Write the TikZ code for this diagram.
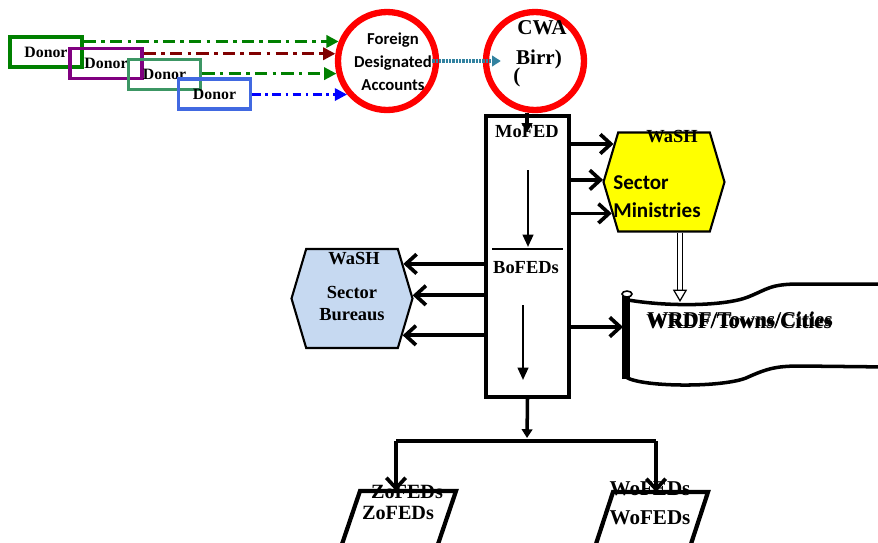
\documentclass[tikz,border=0pt]{standalone}
\usepackage{fontspec}
\setmainfont{Liberation Serif}
\newfontfamily\calibrifont{Carlito}
\usepackage{tikz}
\usetikzlibrary{positioning,arrows.meta,shapes.geometric,shapes.symbols}
\usepackage{xcolor}
\definecolor{donorgreen}{HTML}{008000}
\definecolor{donorpurple}{HTML}{800080}
\definecolor{donorsea}{HTML}{3C9664}
\definecolor{donorblue}{HTML}{4169E1}
\definecolor{flowred}{HTML}{800000}
\definecolor{flowblue}{HTML}{0000FF}
\definecolor{flowteal}{HTML}{3282A0}
\definecolor{ringred}{HTML}{FF0000}
\definecolor{washyellow}{HTML}{FFFF00}
\definecolor{bureaublue}{HTML}{C6D9F1}

\begin{document}
\begin{tikzpicture}[
    x=0.02cm, y=-0.02cm,
    donornode/.style={draw=#1, line width=2pt, minimum width=1.44cm, minimum height=0.6cm, inner sep=0pt, font=\fontsize{9}{10}\selectfont\bfseries},
    ringnode/.style={circle, draw=ringred, line width=3.6pt, minimum size=1.96cm, inner sep=0pt},
    hexnode/.style={signal, signal to=east and west, signal pointer angle=147, draw=black, line width=1.2pt, minimum width=2.42cm, minimum height=1.98cm, inner sep=0pt},
    boxnode/.style={draw=black, line width=1.9pt, inner sep=0pt},
    lbl/.style={font=\fontsize{10.5}{12}\selectfont\bfseries, inner sep=0pt},
    sanslbl/.style={font=\calibrifont\fontsize{12}{14}\selectfont\bfseries, inner sep=0pt},
    donoredge/.style={-{Triangle[length=7pt,width=7pt]}, dash pattern=on 7pt off 3pt on 2pt off 3pt},
    arrowedge/.style={line width=2.1pt, -{Straight Barb[length=6pt,width=11pt]}},
    inneredge/.style={line width=1.3pt, -{Triangle[length=7pt,width=6pt]}},
    stemedge/.style={line width=2pt, -{Triangle[length=5pt,width=6pt]}},
    dbledge/.style={double=white, double distance=1.8pt, line width=0.7pt, -{Triangle[open,length=7pt,width=8pt,line width=0.7pt]}}
]
    \useasboundingbox (0,0) rectangle (878,542);

    % Donatori
    \node[donornode=donorgreen] (d1) at (46,52) {Donor};
    \node[donornode=donorpurple] (d2) at (106,63.5) {Donor};
    \node[donornode=donorsea] (d3) at (164.5,74.5) {Donor};
    \node[donornode=donorblue] (d4) at (214.5,94) {Donor};

    % Conti
    \node[ringnode] (fda) at (387,61) {};
    \node[font=\calibrifont\fontsize{9.5}{13}\selectfont\bfseries, align=center, inner sep=0pt] (fdalbl) at (393,62) {Foreign\\Designated\\Accounts};
    \node[ringnode] (cwa) at (535,61) {};
    \node[lbl, font=\fontsize{12}{14}\selectfont\bfseries] (cwalbl) at (542,28) {CWA};
    \node[lbl, font=\fontsize{12}{14}\selectfont\bfseries] (birrlbl) at (539,59) {Birr)};
    \node[lbl, font=\fontsize{12}{14}\selectfont\bfseries] (parlbl) at (517,77) {(};

    \draw[donoredge, donorgreen, line width=2.2pt] (d1.east |- fda.158) -- (fda.158);
    \draw[donoredge, flowred, line width=1.6pt] (d2.east |- fda.172) -- (fda.172);
    \draw[donoredge, donorgreen, line width=1.5pt] (d3.east |- fda.194) -- (fda.194);
    \draw[donoredge, flowblue, line width=1.5pt, dash pattern=on 5pt off 2.5pt on 1.5pt off 2.5pt] (d4.east |- fda.220) -- (fda.220);
    \draw[flowteal, line width=2.4pt, dash pattern=on 1.4pt off 0.5pt, -{Triangle[length=5pt,width=6pt]}] ([xshift=-0.14cm]fda.east) -- ([xshift=0.36cm]cwa.west);

    % MoFED / BoFEDs
    \node[boxnode, minimum width=1.66cm, minimum height=5.62cm] (mofed) at (527.5,256.5) {};
    \node[lbl] (mofedlbl) at (527,132) {MoFED};
    \node[lbl] (bofedlbl) at (526,268) {BoFEDs};
    \coordinate (divl) at (492,249);
    \coordinate (divr) at (563,249);
    \draw[line width=1.2pt] (divl) -- (divr);
    \coordinate (in1a) at (528,170);
    \coordinate (in1b) at (528,247);
    \coordinate (in2a) at (523,305);
    \coordinate (in2b) at (523,380);
    \draw[inneredge] (in1a) -- (in1b);
    \draw[inneredge] (in2a) -- (in2b);
    \draw[stemedge] (mofedlbl.center |- cwa.south) -- (mofedlbl.center);

    % Settori
    \node[hexnode, fill=washyellow] (minist) at (664,182) {};
    \node[lbl] (ministwash) at (672,137) {WaSH};
    \node[sanslbl, anchor=west] (ministsec) at (613,183) {Sector};
    \node[sanslbl, anchor=west] (ministmin) at (613,210) {Ministries};

    \node[hexnode, fill=bureaublue] (bureaus) at (352,298.5) {};
    \node[lbl] (bureauwash) at (354,259) {WaSH};
    \node[lbl] (bureausec) at (352,292) {Sector};
    \node[lbl] (bureaubur) at (352,315) {Bureaus};

    \draw[arrowedge] (mofed.east |- minist.143) -- (minist.143);
    \draw[arrowedge] (mofed.east |- minist.178) -- (minist.178);
    \draw[arrowedge] (mofed.east |- minist.211) -- (minist.211);
    \draw[arrowedge] (mofed.west |- bureaus.34) -- (bureaus.34);
    \draw[arrowedge] (mofed.west |- bureaus.3) -- (bureaus.3);
    \draw[arrowedge] (mofed.west |- bureaus.324) -- (bureaus.324);

    % Pergamena WRDF
    \draw[line width=2pt] (628,300) .. controls (670,307) and (725,306) .. (748,297) .. controls (768,289) and (770,284) .. (800,284) -- (890,284);
    \draw[line width=2pt] (626,377) .. controls (640,387) and (720,388) .. (746,378) .. controls (766,369) and (775,366) .. (800,366) -- (890,367);
    \draw[line width=4.5pt] (626,296) -- (626,379);
    \draw[line width=0.9pt, fill=white] (627,294) ellipse [x radius=0.1cm, y radius=0.06cm];
    \node[lbl, font=\fontsize{12}{14}\selectfont\bfseries] (wrdf) at (739,321) {WRDF/Towns/Cities};
    \node[lbl, font=\fontsize{12}{14}\selectfont\bfseries] (wrdfb) at (740,319) {WRDF/Towns/Cities};
    \coordinate (scrollin) at (623,327);
    \coordinate (scrolltop) at (680,302);
    \draw[arrowedge] (mofed.east |- scrollin) -- (scrollin);
    \draw[dbledge] (minist.south -| scrolltop) -- (scrolltop);

    % Livelli inferiori
    \coordinate (split) at (527,438);
    \coordinate (zotop) at (396,491);
    \coordinate (wotop) at (656,492);
    \draw[stemedge] (mofed.south) -- (split);
    \draw[line width=2pt] ([yshift=-0.06cm]zotop |- split) -- ([yshift=-0.06cm]wotop |- split);
    \draw[arrowedge] ([yshift=-0.06cm]zotop |- split) -- (zotop);
    \draw[arrowedge] ([yshift=-0.06cm]wotop |- split) -- (wotop);

    \node[lbl, font=\fontsize{11.5}{13}\selectfont\bfseries] (zolbltop) at (407,492) {ZoFEDs};
    \node[lbl, font=\fontsize{11.5}{13}\selectfont\bfseries] (zolbl) at (398,513) {ZoFEDs};
    \node[lbl, font=\fontsize{12}{14}\selectfont\bfseries] (wolbltop) at (650,489) {WoFEDs};
    \node[lbl, font=\fontsize{12}{14}\selectfont\bfseries] (wolbl) at (650,518) {WoFEDs};
    \draw[line width=2.4pt] (360,491) -- (456,491) -- (436,550) -- (340,550) -- cycle;
    \draw[line width=2.4pt] (613,492) -- (708,492) -- (689,550) -- (594,550) -- cycle;
\end{tikzpicture}
\end{document}
